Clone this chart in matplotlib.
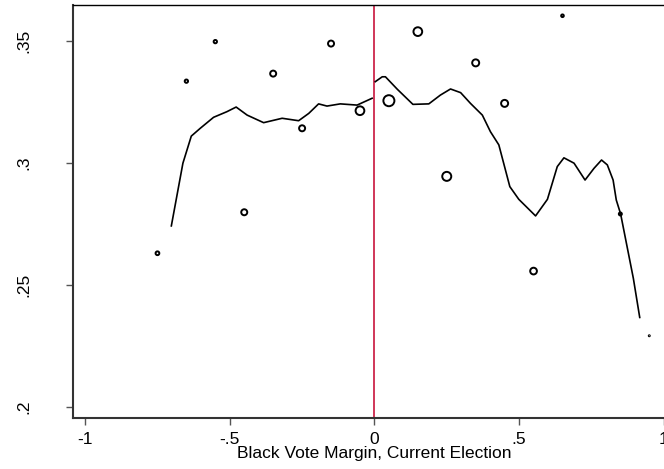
import matplotlib
matplotlib.use("Agg")
import matplotlib.pyplot as plt
import numpy as np

plt.rcParams['font.family'] = ['Liberation Sans', 'DejaVu Sans']

# binned means (hollow circles, size ~ number of obs in bin)
bin_x = [-0.75, -0.65, -0.55, -0.45, -0.35, -0.25, -0.15, -0.05,
         0.05, 0.15, 0.25, 0.35, 0.45, 0.55, 0.65, 0.85, 0.95]
bin_y = [0.2629, 0.3334, 0.3496, 0.2797, 0.3365, 0.3141, 0.3488, 0.3213,
         0.3254, 0.3537, 0.2944, 0.3409, 0.3243, 0.2556, 0.3602, 0.2790, 0.2291]
bin_n = [14, 11, 11, 36, 36, 36, 36, 76, 121, 76, 81, 49, 49, 45, 7, 9, 1]

# local smoother, left of cutoff
left_x = [-0.702, -0.662, -0.633, -0.602, -0.556, -0.510, -0.478, -0.440,
          -0.383, -0.319, -0.262, -0.227, -0.193, -0.164, -0.118, -0.060, -0.008]
left_y = [0.2741, 0.2998, 0.3109, 0.3141, 0.3186, 0.3209, 0.3228, 0.3195,
          0.3164, 0.3182, 0.3172, 0.3202, 0.3241, 0.3232, 0.3241, 0.3236, 0.3264]

# local smoother, right of cutoff
right_x = [0.003, 0.027, 0.038, 0.079, 0.133, 0.188, 0.228, 0.263, 0.298,
           0.332, 0.373, 0.401, 0.430, 0.468, 0.499, 0.557, 0.598, 0.632,
           0.655, 0.690, 0.728, 0.759, 0.785, 0.805, 0.825, 0.836, 0.851,
           0.895, 0.917]
right_y = [0.3332, 0.3352, 0.3352, 0.3301, 0.3239, 0.3241, 0.3277, 0.3302,
           0.3287, 0.3243, 0.3195, 0.3127, 0.3073, 0.2902, 0.2850, 0.2782,
           0.2850, 0.2984, 0.3020, 0.2998, 0.2929, 0.2977, 0.3011, 0.2991,
           0.2929, 0.2847, 0.2790, 0.2526, 0.2366]

xticks = [-1, -0.5, 0, 0.5, 1]
xtick_labels = ['-1', '-.5', '0', '.5', '1']
yticks = [0.2, 0.25, 0.3, 0.35]
ytick_labels = ['.2', '.25', '.3', '.35']

fig = plt.figure(figsize=(6.64, 4.69), dpi=100)
ax = fig.add_axes([0.1099, 0.1087, 0.908, 0.8806])

ax.scatter(bin_x, bin_y, s=np.array(bin_n) * 0.52, facecolors='none',
           edgecolors='black', linewidths=1.4, zorder=3)
ax.plot(left_x, left_y, color='black', lw=1.2, zorder=2)
ax.plot(right_x, right_y, color='black', lw=1.2, zorder=2)
ax.axvline(0, color='#c8143c', lw=1.2, zorder=1)

ax.set_xlim(-1.042, 1.042)
ax.set_ylim(0.1954, 0.3646)
ax.set_xticks(xticks)
ax.set_xticklabels(xtick_labels)
ax.set_yticks(yticks)
ax.set_yticklabels(ytick_labels, rotation=90, va='center')
ax.tick_params(direction='out', length=5, width=1, color='#555555',
               labelsize=12.5, pad=5)
ax.tick_params(axis='y', pad=25)

for side in ['left', 'bottom']:
    ax.spines[side].set_linewidth(1.5)
    ax.spines[side].set_color('#333333')
ax.spines['top'].set_linewidth(1.0)
ax.spines['right'].set_linewidth(1.0)

ax.set_xlabel('Black Vote Margin, Current Election', fontsize=12.5, labelpad=-1)

fig.savefig('out.png', dpi=100)
